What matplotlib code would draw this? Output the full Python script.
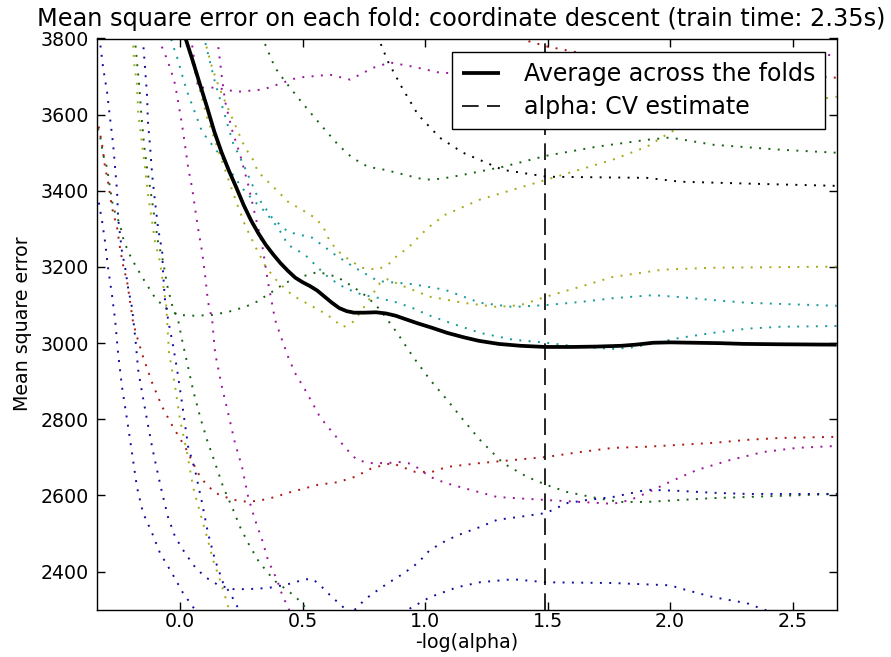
import matplotlib
matplotlib.use("Agg")
import matplotlib.pyplot as plt

plt.rcParams['font.family'] = ['DejaVu Sans']

# ---------------- data ----------------
title = "Mean square error on each fold: coordinate descent (train time: 2.35s)"
xlabel = "-log(alpha)"
ylabel = "Mean square error"
xticks = [0.0, 0.5, 1.0, 1.5, 2.0, 2.5]
yticks = [2400, 2600, 2800, 3000, 3200, 3400, 3600, 3800]
xlim = (-0.339, 2.68)
ylim = (2300, 3800)
alpha_cv = 1.49

avg_x = [0.0, 0.02, 0.05, 0.08, 0.11, 0.14, 0.17, 0.20, 0.23, 0.26, 0.29, 0.32, 0.35, 0.38, 0.41,
         0.44, 0.47, 0.50, 0.53, 0.56, 0.59, 0.62, 0.65, 0.68, 0.71, 0.75, 0.80, 0.84, 0.88, 0.92,
         0.97, 1.03, 1.09, 1.16, 1.22, 1.30, 1.39, 1.49, 1.60, 1.70, 1.80, 1.86, 1.93, 2.0, 2.1,
         2.2, 2.3, 2.45, 2.68]
avg_y = [3845, 3805, 3745, 3682, 3620, 3555, 3500, 3452, 3408, 3362, 3322, 3288, 3258, 3233, 3210,
         3190, 3172, 3160, 3150, 3138, 3122, 3106, 3092, 3084, 3080, 3080, 3081, 3078, 3072, 3063,
         3052, 3040, 3027, 3015, 3006, 2998, 2993, 2990, 2990, 2991, 2993, 2996, 3001, 3002, 3001,
         3000, 2998, 2997, 2996]

k1_x = [0.70, 0.78, 0.808, 0.849, 0.906, 0.971, 1.061, 1.155, 1.318, 1.498, 1.906, 2.04, 2.314, 2.68]
k1_y = [4080, 3880, 3803, 3739, 3671, 3600, 3539, 3500, 3455, 3437, 3434, 3424, 3419, 3413]

g1_x = [0.28, 0.339, 0.388, 0.429, 0.482, 0.539, 0.592, 0.645, 0.702, 0.767, 0.837, 0.918, 1.0,
        1.069, 1.155, 1.318, 1.494, 1.702, 1.906, 2.0, 2.176, 2.449, 2.68]
g1_y = [3950, 3797, 3723, 3687, 3644, 3600, 3560, 3521, 3487, 3463, 3455, 3442, 3429,
        3432, 3442, 3463, 3492, 3516, 3534, 3540, 3521, 3508, 3500]

m1_x = [0.03, 0.05, 0.073, 0.143, 0.233, 0.339, 0.478, 0.612, 0.694, 0.788, 0.857, 0.951, 1.061,
        1.4, 1.8, 2.2, 2.5, 2.68]
m1_y = [3950, 3780, 3671, 3671, 3660, 3666, 3697, 3705, 3692, 3723, 3737, 3726, 3710,
        3705, 3715, 3735, 3750, 3758]

r2_x = [1.3, 1.4, 1.498, 1.65, 1.9, 2.2, 2.45, 2.68]
r2_y = [3850, 3797, 3779, 3760, 3740, 3720, 3705, 3697]

y1_x = [0.08, 0.102, 0.131, 0.155, 0.184, 0.212, 0.237, 0.265, 0.294, 0.318, 0.359, 0.4, 0.441,
        0.498, 0.551, 0.584, 0.604, 0.633, 0.661, 0.702, 0.743, 0.804, 0.849, 0.89, 0.931, 0.971,
        1.012, 1.082, 1.224, 1.359, 1.494, 1.633, 1.767, 1.906, 1.971, 2.04, 2.3, 2.5, 2.68]
y1_y = [3850, 3792, 3723, 3679, 3634, 3592, 3555, 3513, 3487, 3450, 3424, 3398, 3371,
        3350, 3329, 3306, 3277, 3250, 3232, 3214, 3198, 3193, 3206, 3232, 3250, 3277,
        3303, 3337, 3377, 3403, 3429, 3456, 3482, 3516, 3542, 3568, 3610, 3632, 3647]

c1_x = [0.08, 0.102, 0.143, 0.176, 0.216, 0.265, 0.318, 0.376, 0.441, 0.539, 0.633, 0.714, 0.808,
        0.947, 1.082, 1.224, 1.359, 1.494, 1.633, 1.767, 1.93, 2.04, 2.176, 2.314, 2.68]
c1_y = [3860, 3792, 3684, 3613, 3526, 3460, 3382, 3329, 3292, 3277, 3232, 3198, 3163,
        3155, 3140, 3106, 3095, 3100, 3108, 3118, 3126, 3121, 3113, 3106, 3098]

c2_x = [-0.06, -0.033, -0.012, 0.008, 0.029, 0.049, 0.09, 0.184, 0.224, 0.265, 0.306, 0.347, 0.4,
        0.441, 0.51, 0.592, 0.633, 0.673, 0.743, 0.808, 0.878, 0.947, 1.012, 1.09, 1.224, 1.359,
        1.494, 1.633, 1.767, 1.837, 1.906, 2.04, 2.176, 2.314, 2.449, 2.68]
c2_y = [3870, 3790, 3750, 3705, 3660, 3626, 3555, 3476, 3434, 3398, 3371, 3345, 3303,
        3258, 3232, 3180, 3161, 3145, 3127, 3119, 3108, 3093, 3074, 3056, 3027, 3009,
        3001, 2990, 2985, 2988, 2996, 3014, 3027, 3038, 3043, 3045]

y2_x = [0.0, 0.029, 0.069, 0.11, 0.151, 0.192, 0.23, 0.265, 0.31, 0.35, 0.4, 0.46, 0.53, 0.6,
        0.665, 0.706, 0.735, 0.763, 0.816, 0.849, 0.898, 1.02, 1.155, 1.294, 1.39, 1.494, 1.633,
        1.767, 1.971, 2.176, 2.68]
y2_y = [3880, 3789, 3692, 3594, 3516, 3440, 3370, 3310, 3250, 3200, 3160, 3125, 3100, 3075,
        3042, 3056, 3080, 3106, 3158, 3168, 3153, 3122, 3106, 3095, 3100, 3122, 3148,
        3174, 3193, 3198, 3201]

g2_x = [-0.36, -0.327, -0.314, -0.298, -0.286, -0.273, -0.245, -0.233, -0.212, -0.184, -0.143,
        -0.102, -0.061, -0.008, 0.061, 0.131, 0.196, 0.265, 0.314, 0.376, 0.429, 0.482, 0.563,
        0.641, 0.706, 0.763, 0.816, 0.886, 0.951, 1.02, 1.09, 1.155, 1.224, 1.318, 1.416, 1.494,
        1.58, 1.702, 1.796, 1.906, 2.04, 2.176, 2.314, 2.68]
g2_y = [3610, 3547, 3495, 3461, 3408, 3356, 3311, 3277, 3240, 3206, 3161,
        3119, 3093, 3074, 3072, 3074, 3082, 3095, 3109, 3135, 3158, 3172, 3187,
        3174, 3148, 3122, 3088, 3027, 2964, 2904, 2851, 2799, 2746, 2685, 2649, 2628,
        2609, 2593, 2583, 2583, 2588, 2593, 2596, 2604]

r1_x = [-0.36, -0.335, -0.318, -0.306, -0.294, -0.278, -0.257, -0.245, -0.233, -0.216, -0.204,
        -0.192, -0.176, -0.151, -0.114, -0.073, -0.029, 0.02, 0.073, 0.102, 0.143, 0.184, 0.224,
        0.278, 0.335, 0.388, 0.441, 0.482, 0.563, 0.645, 0.714, 0.784, 0.865, 0.918, 0.959, 1.029,
        1.09, 1.224, 1.359, 1.494, 1.633, 1.767, 1.906, 2.04, 2.176, 2.314, 2.449, 2.68]
r1_y = [3640, 3579, 3521, 3461, 3424, 3356, 3303, 3250, 3206, 3161, 3109,
        3056, 3017, 2964, 2896, 2833, 2780, 2728, 2659, 2633, 2607, 2596, 2588,
        2583, 2588, 2596, 2607, 2614, 2628, 2635, 2649, 2672, 2685, 2672, 2662, 2662,
        2675, 2685, 2693, 2701, 2714, 2725, 2728, 2733, 2738, 2746, 2751, 2754]

m2_x = [0.14, 0.155, 0.171, 0.184, 0.212, 0.245, 0.278, 0.306, 0.335, 0.359, 0.388, 0.416, 0.441,
        0.469, 0.518, 0.571, 0.624, 0.682, 0.722, 0.776, 0.849, 0.89, 0.931, 0.971, 1.02, 1.082,
        1.155, 1.294, 1.494, 1.633, 1.767, 1.837, 1.906, 2.0, 2.11, 2.245, 2.38, 2.518, 2.68]
m2_y = [3850, 3784, 3697, 3634, 3560, 3495, 3416, 3337, 3258, 3160, 3061, 3009, 2964,
        2922, 2869, 2806, 2764, 2720, 2693, 2685, 2685, 2688, 2685, 2672, 2649, 2633,
        2620, 2596, 2588, 2583, 2578, 2588, 2607, 2636, 2667, 2693, 2714, 2725, 2730]

m3_x = [-0.1, -0.082, -0.061, -0.041, -0.02, -0.008, 0.008, 0.02, 0.033, 0.049, 0.061, 0.073,
        0.09, 0.102, 0.114, 0.131, 0.143, 0.171, 0.196, 0.224, 0.253, 0.278, 0.306, 0.335, 0.359,
        0.396, 0.42, 0.441, 0.47]
m3_y = [3850, 3790, 3758, 3724, 3679, 3634, 3574, 3521, 3461, 3408, 3355, 3303,
        3240, 3180, 3109, 3061, 2974, 2885, 2817, 2738, 2675, 2596, 2536, 2483, 2430,
        2378, 2333, 2307, 2250]

b1_x = [-0.335, -0.327, -0.314, -0.298, -0.286, -0.273, -0.265, -0.257, -0.253, -0.245, -0.237,
        -0.224, -0.212, -0.196, -0.188, -0.182, -0.171, -0.155, -0.135, -0.114, -0.094, -0.073,
        -0.049, -0.02, 0.02, 0.061, 0.102, 0.155, 0.212, 0.278, 0.359, 0.429, 0.469, 0.51, 0.543,
        0.58, 0.62, 0.661, 0.694, 0.727, 0.767, 0.808, 0.849, 0.89, 0.931, 0.971, 1.02, 1.09,
        1.155, 1.224, 1.294, 1.388, 1.494, 1.58, 1.661, 1.767, 1.906, 2.04, 2.176, 2.314, 2.68]
b1_y = [3830, 3792, 3723, 3660, 3592, 3521, 3460, 3398, 3329, 3285, 3240,
        3198, 3145, 3093, 3045, 3009, 2930, 2870, 2799, 2727, 2667, 2606,
        2543, 2491, 2449, 2412, 2386, 2365, 2354, 2354, 2357, 2365, 2372, 2380, 2380,
        2359, 2333, 2310, 2286, 2310, 2333, 2352, 2370, 2386, 2404, 2423, 2457, 2483,
        2501, 2517, 2536, 2544, 2554, 2580, 2588, 2596, 2615, 2612, 2607, 2604, 2604]

b2_x = [-0.36, -0.335, -0.318, -0.306, -0.294, -0.278, -0.265, -0.253, -0.237, -0.216, -0.196,
        -0.176, -0.151, -0.114, -0.082, -0.033, 0.012, 0.053, 0.09]
b2_y = [3440, 3382, 3319, 3266, 3198, 3127, 3061, 2974, 2885, 2798, 2711,
        2622, 2554, 2501, 2449, 2396, 2344, 2307, 2270]

b3_x = [0.88, 0.927, 1.02, 1.131, 1.224, 1.359, 1.494, 1.767, 2.0, 2.07, 2.176, 2.314, 2.355,
        2.45, 2.68]
b3_y = [2270, 2299, 2333, 2359, 2372, 2380, 2372, 2370, 2364, 2351, 2333, 2317, 2307,
        2285, 2260]

b4_x = [-0.16, -0.151, -0.143, -0.135, -0.131, -0.122, -0.114, -0.102, -0.09, -0.073, -0.069,
        -0.061, -0.045, -0.029, -0.012, 0.008, 0.033, 0.061, 0.09, 0.114, 0.143, 0.176, 0.204,
        0.237, 0.265]
b4_y = [3850, 3792, 3723, 3653, 3581, 3513, 3442, 3371, 3303, 3240, 3180,
        3109, 3048, 2995, 2930, 2843, 2728, 2667, 2580, 2501, 2430, 2370, 2344,
        2304, 2260]

y3_x = [-0.2, -0.192, -0.188, -0.176, -0.171, -0.155, -0.143, -0.131, -0.114, -0.102, -0.082,
        -0.069, -0.057, -0.053, -0.045, -0.02, 0.0, 0.029, 0.053, 0.082, 0.11, 0.135, 0.163,
        0.192, 0.212]
y3_y = [3830, 3797, 3739, 3679, 3608, 3521, 3461, 3390, 3319, 3266, 3214,
        3153, 3101, 3061, 2974, 2885, 2798, 2711, 2622, 2554, 2491, 2430, 2378,
        2318, 2273]

g3_x = [-0.19, -0.184, -0.176, -0.167, -0.159, -0.147, -0.135, -0.118, -0.102, -0.09, -0.069,
        -0.053, -0.033, -0.008, 0.008, 0.029, 0.053, 0.082, 0.11, 0.143, 0.176, 0.212, 0.245,
        0.278, 0.318, 0.359, 0.396, 0.437, 0.498, 0.53]
g3_y = [3830, 3797, 3739, 3679, 3608, 3521, 3461, 3390, 3319, 3266, 3214,
        3153, 3101, 3061, 3009, 2948, 2877, 2806, 2746, 2685, 2622, 2570, 2517,
        2475, 2430, 2396, 2370, 2352, 2318, 2286]

folds = [
    (b2_x, b2_y, 'b'), (g2_x, g2_y, 'g'), (r1_x, r1_y, 'r'), (c1_x, c1_y, 'c'),
    (m1_x, m1_y, 'm'), (y1_x, y1_y, 'y'), (k1_x, k1_y, 'k'),
    (b1_x, b1_y, 'b'), (g1_x, g1_y, 'g'), (r2_x, r2_y, 'r'), (c2_x, c2_y, 'c'),
    (m2_x, m2_y, 'm'), (y2_x, y2_y, 'y'),
    (b3_x, b3_y, 'b'), (g3_x, g3_y, 'g'), (m3_x, m3_y, 'm'), (y3_x, y3_y, 'y'),
    (b4_x, b4_y, 'b'),
]
fold_colors = {'b': (0.05, 0.05, 0.62), 'g': (0.08, 0.38, 0.08), 'r': (0.68, 0.08, 0.08),
               'c': (0.08, 0.6, 0.6), 'm': (0.6, 0.08, 0.6), 'y': (0.66, 0.66, 0.08),
               'k': (0, 0, 0)}

# ---------------- figure ----------------
fig = plt.figure(figsize=(8.91, 6.57), dpi=100, facecolor='white')
ax = fig.add_axes([97 / 891, 1 - 609.7 / 657, (836.7 - 97) / 891, (609.7 - 38.5) / 657])

for fx, fy, col in folds:
    ax.plot(fx, fy, linestyle=(0, (1, 3.8)), color=fold_colors[col], linewidth=1.4)

ax.plot(avg_x, avg_y, color='k', linewidth=2.7, label='Average across the folds',
        solid_capstyle='butt', solid_joinstyle='round')
ax.axvline(alpha_cv, color='k', linestyle=(0, (10, 5)), linewidth=1.2,
           label='alpha: CV estimate')

ax.set_xlim(*xlim)
ax.set_ylim(*ylim)
ax.set_xticks(xticks)
ax.set_yticks(yticks)
ax.set_xticklabels([f"{t:.1f}" for t in xticks])
ax.tick_params(direction='in', length=6, width=1, top=True, right=True, labelsize=13.7)
ax.tick_params(axis='y', pad=6)
ax.tick_params(axis='x', pad=2)
for sp in ax.spines.values():
    sp.set_linewidth(1.0)

ax.set_xlabel(xlabel, fontsize=13.7, labelpad=1)
ax.set_ylabel(ylabel, fontsize=13.7, labelpad=6)
ax.set_title(title, fontsize=17.3, pad=9, x=0.492)

leg = ax.legend(loc='upper right', bbox_to_anchor=(0.984, 0.9764), borderaxespad=0,
                fontsize=17.1, fancybox=False, framealpha=1, edgecolor='k',
                handlelength=1.6, handletextpad=1.0, borderpad=0.42, labelspacing=0.38)
leg.get_frame().set_linewidth(1.0)

fig.savefig('out.png', dpi=100, facecolor='white')
